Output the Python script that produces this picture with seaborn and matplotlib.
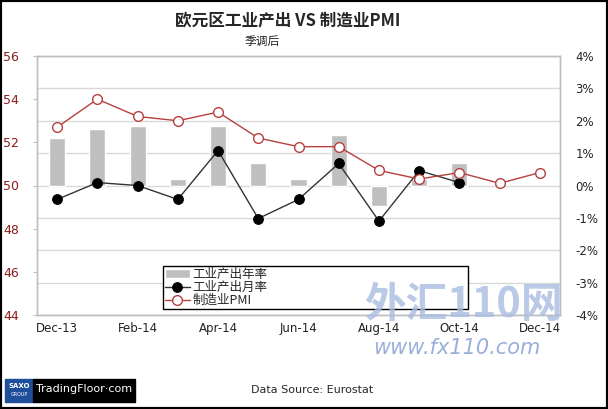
import numpy as np
import pandas as pd
import matplotlib
matplotlib.use("Agg")
import matplotlib.pyplot as plt
import seaborn as sns

# months on the x axis
months = ["Dec-13", "Jan-14", "Feb-14", "Mar-14", "Apr-14", "May-14", "Jun-14",
          "Jul-14", "Aug-14", "Sep-14", "Oct-14", "Nov-14", "Dec-14"]
# industrial production, year on year (%), right axis
ip_yoy = [1.48, 1.76, 1.85, 0.19, 1.85, 0.68, 0.19, 1.57, -0.62, 0.19, 0.68, np.nan, np.nan]
# industrial production, month on month (%), right axis
ip_mom = [-0.43, 0.09, 0.0, -0.43, 1.08, -1.02, -0.43, 0.68, -1.1, 0.46, 0.09, np.nan, np.nan]
# manufacturing PMI, left axis
pmi = [52.7, 54.0, 53.2, 53.0, 53.4, 52.2, 51.8, 51.8, 50.7, 50.3, 50.6, 50.1, 50.6]

left_ticks = [44, 46, 48, 50, 52, 54, 56]
right_ticks = [-4, -3, -2, -1, 0, 1, 2, 3, 4]

sns.set_style("white")
plt.rcParams['font.family'] = ['Noto Sans CJK SC', 'DejaVu Sans']

df = pd.DataFrame({"month": months, "idx": np.arange(len(months)),
                   "yoy": ip_yoy, "mom": ip_mom, "pmi": pmi})

fig = plt.figure(figsize=(6.08, 4.09), dpi=100)
ax = fig.add_axes([37 / 608, 1 - 315 / 409, 523 / 608, 259 / 409])

# percent series on the main axes
sns.barplot(data=df.dropna(subset=["yoy"]), x="idx", y="yoy", order=list(range(len(months))),
            color="#BFBFBF", saturation=1, width=0.4, ax=ax, label="工业产出年率")
sns.lineplot(data=df.dropna(subset=["mom"]), x="idx", y="mom", color="#333333", lw=1,
             marker="o", markersize=7, markerfacecolor="black", markeredgecolor="black",
             ax=ax, label="工业产出月率")
ax.set_ylim(-4, 4)
ax.set_yticks(right_ticks)
ax.set_yticklabels([f"{t}%" for t in right_ticks], fontsize=8.5, family="DejaVu Sans")
ax.grid(axis="y", color="#D9D9D9", lw=1)
ax.set_axisbelow(True)

# PMI on a twin axes
ax2 = ax.twinx()
sns.lineplot(data=df, x="idx", y="pmi", color="#B5403F", lw=1, marker="o", markersize=7,
             markerfacecolor="white", markeredgecolor="#B5403F", markeredgewidth=1,
             ax=ax2, label="制造业PMI")
ax2.set_ylim(44, 56)
ax2.set_yticks(left_ticks)
ax2.set_yticklabels([str(t) for t in left_ticks], fontsize=9, color="#8B1A1A", family="DejaVu Sans")

# swap sides: percent on the right, PMI on the left
ax.yaxis.tick_right()
ax.tick_params(axis="y", length=0, pad=11)
ax2.yaxis.tick_left()
ax2.tick_params(axis="y", length=3, color="#BFBFBF", pad=10)

ax.set_xlim(-0.5, len(months) - 0.5)
ax.set_xticks(range(0, len(months), 2))
ax.set_xticklabels(months[::2], fontsize=8.5, family="DejaVu Sans", color="#222222")
ax.tick_params(axis="x", length=0, pad=5)
ax.set_xlabel("")
ax.set_ylabel("")
ax2.set_ylabel("")

for a in (ax, ax2):
    for s in a.spines.values():
        s.set_color("#BFBFBF")
        s.set_linewidth(1)

# legend: bars, monthly, PMI
h1, l1 = ax.get_legend_handles_labels()
h2, l2 = ax2.get_legend_handles_labels()
hd = dict(zip(l1 + l2, h1 + h2))
order = ["工业产出年率", "工业产出月率", "制造业PMI"]
if ax.get_legend():
    ax.get_legend().remove()
if ax2.get_legend():
    ax2.get_legend().remove()
leg = ax2.legend([hd[k] for k in order], order, loc="lower left", mode="expand",
                 bbox_to_anchor=(0.241, 0.023, 0.583, 0.174),
                 frameon=True, fancybox=False, edgecolor="black", fontsize=9,
                 handlelength=2.0, handletextpad=0.2, labelspacing=0.0,
                 borderpad=0.15, borderaxespad=0, framealpha=1)
leg.get_frame().set_linewidth(1)

# titles
fig.text(288 / 608, 1 - 20 / 409, "欧元区工业产出 VS 制造业PMI", ha="center", va="center",
         fontsize=12, fontweight="bold")
fig.text(262 / 608, 1 - 41 / 409, "季调后", ha="center", va="center", fontsize=8.5)
fig.text(312 / 608, 1 - 390 / 409, "Data Source: Eurostat", ha="center", va="center",
         fontsize=8, family="DejaVu Sans")

# watermark
fig.text(463 / 608, 1 - 305 / 409, "外汇110网", ha="center", va="center", fontsize=30,
         fontweight="bold", style="italic", color="#A8BCE0", alpha=0.8)
fig.text(457 / 608, 1 - 348 / 409, "www.fx110.com", ha="center", va="center", fontsize=15,
         style="italic", color="#8FA6D6", family="DejaVu Sans", alpha=0.9)

# logo
fig.patches.append(plt.Rectangle((5 / 608, 1 - 402 / 409), 28 / 608, 23 / 409,
                                 transform=fig.transFigure, color="#1F4E9B"))
fig.patches.append(plt.Rectangle((33 / 608, 1 - 402 / 409), 102 / 608, 23 / 409,
                                 transform=fig.transFigure, color="black"))
fig.text(19 / 608, 1 - 386 / 409, "SAXO", ha="center", va="center", fontsize=5,
         color="white", family="DejaVu Sans", fontweight="bold")
fig.text(19 / 608, 1 - 395 / 409, "GROUP", ha="center", va="center", fontsize=3.5,
         color="white", family="DejaVu Sans")
fig.text(84 / 608, 1 - 389 / 409, "TradingFloor·com", ha="center", va="center", fontsize=8,
         color="white", family="DejaVu Sans")

# outer border
fig.patches.append(plt.Rectangle((0, 0), 1, 1, transform=fig.transFigure, fill=False,
                                 edgecolor="black", lw=3))

fig.savefig("out.png", dpi=100)
